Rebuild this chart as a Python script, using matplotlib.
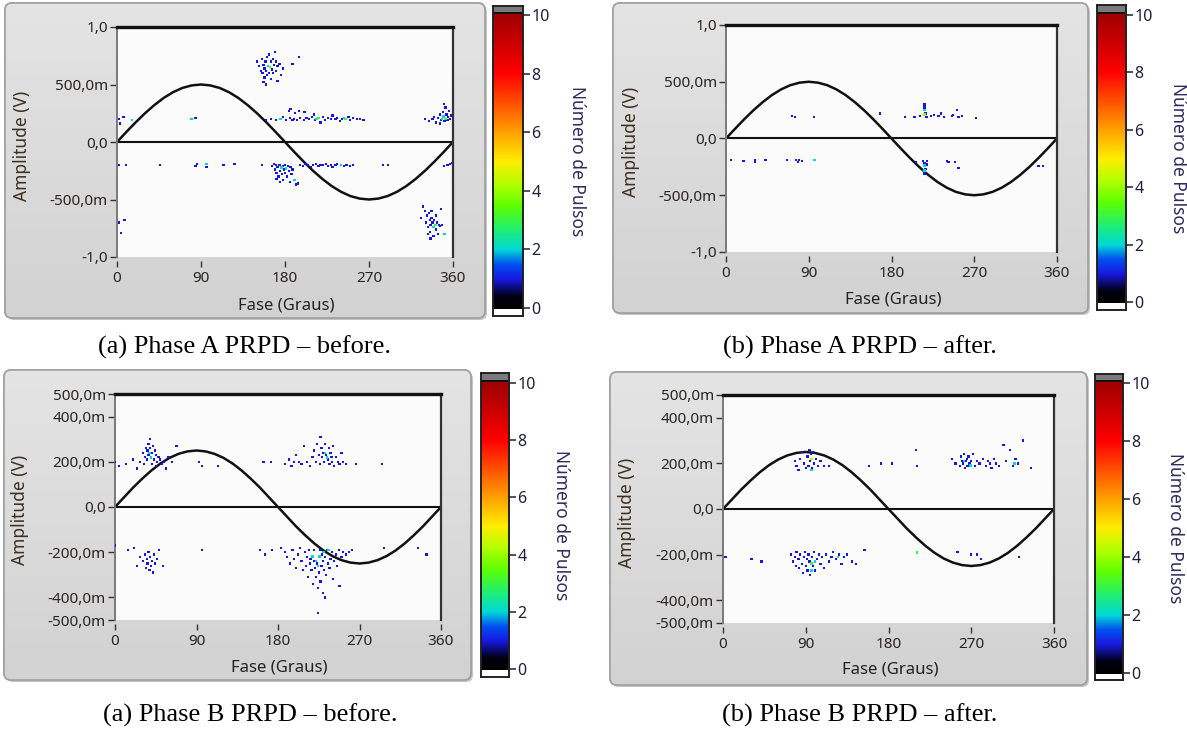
import numpy as np
import matplotlib
matplotlib.use('Agg')
import matplotlib.pyplot as plt
from matplotlib.colors import LinearSegmentedColormap, Normalize
from matplotlib.patches import FancyBboxPatch, Rectangle

# ---------------- data ----------------
x_ticks = [0, 90, 180, 270, 360]
cbar_ticks = [0, 2, 4, 6, 8, 10]

ytick_top = [1.0, 0.5, 0.0, -0.5, -1.0]
ylab_top = ['1,0', '500,0m', '0,0', '-500,0m', '-1,0']
ytick_bot = [0.5, 0.4, 0.2, 0.0, -0.2, -0.4, -0.5]
ylab_bot = ['500,0m', '400,0m', '200,0m', '0,0', '-200,0m', '-400,0m', '-500,0m']

sine_phase = [0, 10, 20, 30, 40, 50, 60, 70, 80, 90, 100, 110, 120, 130, 140, 150, 160, 170, 180,
              190, 200, 210, 220, 230, 240, 250, 260, 270, 280, 290, 300, 310, 320, 330, 340, 350, 360]
sine_top = [0, 0.087, 0.171, 0.25, 0.321, 0.383, 0.433, 0.47, 0.492, 0.5, 0.492, 0.47, 0.433, 0.383,
            0.321, 0.25, 0.171, 0.087, 0, -0.087, -0.171, -0.25, -0.321, -0.383, -0.433, -0.47, -0.492,
            -0.5, -0.492, -0.47, -0.433, -0.383, -0.321, -0.25, -0.171, -0.087, 0]
sine_bot = [0, 0.043, 0.086, 0.125, 0.161, 0.192, 0.217, 0.235, 0.246, 0.25, 0.246, 0.235, 0.217, 0.192,
            0.161, 0.125, 0.086, 0.043, 0, -0.043, -0.086, -0.125, -0.161, -0.192, -0.217, -0.235, -0.246,
            -0.25, -0.246, -0.235, -0.217, -0.192, -0.161, -0.125, -0.086, -0.043, 0]

# Phase A - before (single pulses)
a_phase = [150, 152, 154, 155, 156, 157, 157, 158, 158, 159, 160, 160, 161, 161, 163, 163, 165, 165, 166,
           167, 167, 168, 169, 170, 170, 172, 172, 174, 176, 178, 188, 195,
           2, 3, 7, 84,
           160, 165, 170, 178, 181, 184, 185, 186, 188, 190, 191, 193, 195, 196, 200, 201, 203, 206, 209,
           211, 212, 218, 221, 223, 226, 229, 231, 234, 236, 239, 241, 248, 250, 253, 257, 260, 264,
           330, 334, 338, 340, 342, 344, 346, 346, 347, 349, 350, 351, 352, 353, 354, 355, 356, 357, 358,
           2, 10, 46, 84, 86, 96, 114, 126, 155,
           166, 168, 169, 170, 171, 171, 172, 173, 174, 175, 175, 177, 178, 178, 179, 180, 180, 182, 183,
           184, 185, 186, 187, 188, 192, 194,
           196, 199, 202, 205, 208, 210, 213, 216, 218, 221, 224, 226, 229, 231, 234, 236, 243, 246, 250,
           253, 285, 290, 350, 354, 357, 359,
           326, 328, 330, 331, 332, 333, 333, 334, 335, 335, 336, 336, 337, 337, 338, 339, 340, 342, 342,
           343, 344, 345, 346, 347, 348,
           2, 8, 4]
a_amp = [0.70, 0.66, 0.62, 0.72, 0.60, 0.67, 0.52, 0.64, 0.56, 0.70, 0.62, 0.50, 0.58, 0.74, 0.60, 0.76, 0.70, 0.55, 0.63,
         0.72, 0.60, 0.67, 0.78, 0.70, 0.62, 0.66, 0.53, 0.68, 0.58, 0.64, 0.68, 0.74,
         0.20, 0.16, 0.22, 0.21,
         0.19, 0.20, 0.19, 0.22, 0.19, 0.27, 0.21, 0.29, 0.19, 0.20, 0.25, 0.19, 0.27, 0.21, 0.19, 0.26, 0.21, 0.20, 0.22,
         0.24, 0.19, 0.17, 0.22, 0.19, 0.21, 0.20, 0.23, 0.20, 0.21, 0.18, 0.20, 0.22, 0.19, 0.21, 0.20, 0.20, 0.19,
         0.20, 0.18, 0.20, 0.22, 0.17, 0.21, 0.24, 0.16, 0.19, 0.26, 0.33, 0.18, 0.30, 0.24, 0.19, 0.22, 0.27, 0.20, 0.23,
         -0.20, -0.20, -0.20, -0.21, -0.19, -0.22, -0.20, -0.19, -0.20,
         -0.21, -0.19, -0.24, -0.20, -0.27, -0.32, -0.22, -0.30, -0.20, -0.25, -0.35, -0.28, -0.21, -0.33, -0.24, -0.20, -0.27, -0.30, -0.21,
         -0.25, -0.35, -0.22, -0.28, -0.24, -0.37, -0.36,
         -0.20, -0.21, -0.19, -0.20, -0.22, -0.20, -0.19, -0.21, -0.20, -0.20, -0.19, -0.21, -0.20, -0.22, -0.20, -0.19, -0.21, -0.20, -0.21,
         -0.20, -0.20, -0.20, -0.21, -0.20, -0.19, -0.18,
         -0.66, -0.56, -0.60, -0.70, -0.64, -0.74, -0.80, -0.62, -0.68, -0.78, -0.72, -0.84, -0.66, -0.60, -0.70, -0.82, -0.68, -0.76, -0.64,
         -0.70, -0.80, -0.72, -0.73, -0.58, -0.72,
         -0.70, -0.68, -0.79]
# Phase A - before (repeated pulses)
a_hot_phase = [162, 164, 16, 80, 175, 214, 216, 243, 245, 348, 350, 352, 96, 176, 181, 190, 240, 339, 341, 351]
a_hot_amp = [0.66, 0.65, 0.19, 0.20, 0.20, 0.20, 0.21, 0.21, 0.20, 0.20, 0.22, 0.20,
             -0.19, -0.22, -0.23, -0.33, -0.20, -0.74, -0.72, -0.80]
a_hot_count = [2, 3, 2, 2, 2, 2, 3, 2, 3, 2, 2, 3, 2, 2, 2, 2, 2, 2, 3, 2]

# Phase A - after
b_phase = [71.5, 75, 96, 167.6, 195, 205, 211, 216, 216, 216, 217, 215, 218, 223, 226, 231, 234, 237,
           246, 247, 251, 253, 257, 272,
           5.4, 19, 31.6, 31.6, 43, 66, 76, 78, 79, 83, 207, 214, 216, 217, 218, 219, 240, 242, 249,
           253, 340, 345]
b_amp = [0.20, 0.19, 0.19, 0.22, 0.19, 0.19, 0.20, 0.30, 0.28, 0.26, 0.22, 0.21, 0.19, 0.20, 0.21, 0.20, 0.22, 0.19,
         0.20, 0.21, 0.25, 0.19, 0.20, 0.18,
         -0.19, -0.20, -0.19, -0.21, -0.19, -0.19, -0.19, -0.21, -0.19, -0.20, -0.21, -0.20, -0.22, -0.27, -0.23, -0.20, -0.20, -0.21, -0.21,
         -0.26, -0.24, -0.24]
b_hot_phase = [216, 216, 96, 216, 216, 216]
b_hot_amp = [0.21, 0.25, -0.19, -0.24, -0.28, -0.31]
b_hot_count = [4, 2, 2, 2, 2, 1]

# Phase B - before
c_phase = [0, 4, 12, 20, 24, 28, 31, 32, 33, 34, 35, 36, 37, 37, 39, 39, 41, 41, 42, 43, 44, 45, 45, 46,
           48, 50, 52, 54, 56, 59, 63, 68, 93, 96, 114,
           164, 172, 188, 192, 195, 198, 200, 203, 206, 209, 212, 215, 218, 220, 222, 223, 225, 226, 227,
           228, 229, 230, 231, 232, 233, 235, 236, 237, 238, 239, 240, 241, 242, 244, 246, 248, 250, 252,
           255, 266, 295,
           0, 14, 21, 24, 28, 31, 33, 34, 35, 36, 37, 38, 39, 40, 41, 42, 43, 44, 46, 49, 53, 96,
           160, 166, 173, 183, 188, 190, 193, 196, 198, 200, 202, 204, 206, 208, 210, 211, 212, 213, 214,
           215, 216, 217, 219, 220, 220, 221, 222, 223, 224, 225, 227, 227, 228, 229, 230, 230, 231, 232,
           233, 234, 235, 237, 238, 240, 241, 242, 244, 245, 247, 248, 250, 252, 255, 258, 262, 232, 224,
           297, 335, 344]
c_amp = [0.20, 0.18, 0.19, 0.21, 0.17, 0.20, 0.24, 0.19, 0.22, 0.26, 0.21, 0.25, 0.23, 0.28, 0.26, 0.30, 0.24, 0.19, 0.27, 0.21, 0.25, 0.23, 0.18, 0.20,
         0.22, 0.21, 0.19, 0.20, 0.17, 0.22, 0.20, 0.27, 0.20, 0.18, 0.18,
         0.20, 0.20, 0.19, 0.21, 0.18, 0.20, 0.23, 0.20, 0.19, 0.27, 0.20, 0.18, 0.22, 0.25, 0.20, 0.28, 0.23, 0.19, 0.31,
         0.26, 0.22, 0.24, 0.20, 0.28, 0.23, 0.21, 0.26, 0.19, 0.24, 0.22, 0.20, 0.27, 0.18, 0.22, 0.20, 0.19, 0.24, 0.20,
         0.19, 0.19, 0.19,
         -0.17, -0.19, -0.18, -0.26, -0.22, -0.24, -0.21, -0.27, -0.23, -0.25, -0.20, -0.28, -0.22, -0.26, -0.24, -0.29, -0.21, -0.25, -0.23, -0.19, -0.26, -0.19,
         -0.19, -0.21, -0.19, -0.18, -0.20, -0.22, -0.25, -0.19, -0.23, -0.27, -0.21, -0.18, -0.24, -0.28, -0.20, -0.26, -0.22, -0.31, -0.19,
         -0.25, -0.23, -0.28, -0.34, -0.24, -0.19, -0.27, -0.31, -0.25, -0.36, -0.29, -0.33, -0.19, -0.26, -0.21, -0.38, -0.24, -0.28, -0.22,
         -0.30, -0.19, -0.25, -0.27, -0.23, -0.20, -0.32, -0.24, -0.21, -0.26, -0.19, -0.35, -0.22, -0.20, -0.21, -0.20, -0.19, -0.40, -0.47,
         -0.18, -0.18, -0.21]
c_hot_phase = [38, 40, 232, 234, 218, 222, 226, 230, 236, 224]
c_hot_amp = [0.24, 0.22, 0.24, 0.22, -0.22, -0.24, -0.22, -0.20, -0.19, -0.26]
c_hot_count = [2, 2, 2, 2, 2, 2, 2, 2, 2, 2]

# Phase B - after
d_phase = [78, 80, 82, 84, 86, 88, 90, 92, 93, 94, 95, 96, 97, 98, 99, 101, 103, 106, 110, 115,
           159, 172, 184, 210, 211,
           249, 253, 258, 259, 260, 261, 262, 263, 264, 265, 266, 267, 268, 270, 272, 274, 276, 279, 283,
           286, 288, 290, 292, 295, 297, 300, 305, 308, 312, 315, 318, 321, 326, 335,
           74, 76, 78, 79, 80, 82, 83, 84, 86, 87, 88, 89, 90, 91, 92, 93, 94, 95, 97, 98, 99, 100, 102,
           104, 106, 108, 110, 112, 115, 118, 120, 123, 126, 129, 132, 135, 140, 145,
           2.6, 31, 42, 154, 255, 270, 276, 281, 322]
d_amp = [0.21, 0.19, 0.17, 0.22, 0.25, 0.20, 0.18, 0.23, 0.19, 0.26, 0.21, 0.24, 0.18, 0.25, 0.20, 0.22, 0.19, 0.21, 0.19, 0.19,
         0.19, 0.20, 0.20, 0.26, 0.19,
         0.22, 0.20, 0.19, 0.23, 0.21, 0.20, 0.24, 0.18, 0.21, 0.22, 0.19, 0.23, 0.20, 0.21, 0.24, 0.19, 0.21, 0.20, 0.22,
         0.19, 0.21, 0.20, 0.18, 0.22, 0.20, 0.19, 0.28, 0.21, 0.26, 0.19, 0.22, 0.20, 0.30, 0.18,
         -0.20, -0.23, -0.21, -0.25, -0.19, -0.22, -0.26, -0.20, -0.24, -0.28, -0.21, -0.19, -0.25, -0.22, -0.27, -0.20, -0.23, -0.29, -0.21, -0.25, -0.19, -0.27, -0.22,
         -0.20, -0.24, -0.21, -0.26, -0.20, -0.23, -0.21, -0.19, -0.22, -0.20, -0.24, -0.21, -0.20, -0.23, -0.24,
         -0.21, -0.22, -0.23, -0.18, -0.19, -0.20, -0.20, -0.22, -0.21]
d_hot_phase = [96, 96, 262, 269, 317, 96, 96, 100, 125, 211]
d_hot_amp = [0.22, 0.17, 0.21, 0.19, 0.20, -0.24, -0.27, -0.23, -0.21, -0.19]
d_hot_count = [4, 2, 2, 2, 2, 3, 2, 2, 2, 3]

captions = ['(a) Phase A PRPD \u2013 before.', '(b) Phase A PRPD \u2013 after.',
            '(a) Phase B PRPD \u2013 before.', '(b) Phase B PRPD \u2013 after.']

# ---------------- style ----------------
W, H = 1187, 732
fig = plt.figure(figsize=(W / 100, H / 100), dpi=100)
fig.patch.set_facecolor('white')

def rect(x0, y0, x1, y1):
    return [x0 / W, 1 - y1 / H, (x1 - x0) / W, (y1 - y0) / H]

cmap = LinearSegmentedColormap.from_list('lv', [
    (0.00, '#000000'), (0.04, '#000010'), (0.10, '#1818e0'), (0.15, '#0050f0'),
    (0.20, '#00d8d8'), (0.27, '#20f070'), (0.35, '#60ff00'), (0.42, '#b0ff00'),
    (0.50, '#ffee00'), (0.60, '#ffa000'), (0.70, '#ff5000'), (0.80, '#ff0000'),
    (0.90, '#cc0000'), (1.00, '#a00000')])
norm = Normalize(0, 10)

UI = 'Noto Sans'
TXT = '#2a2520'

bg = fig.add_axes([0, 0, 1, 1], zorder=-10)
bg.set_xlim(0, W)
bg.set_ylim(H, 0)
bg.axis('off')

panels = [
    dict(frame=(5, 3, 485, 318), plot=(117, 27, 453, 257), cb=(493, 6, 523, 316), c0=308, c10=15,
         yl=(22, 146), xl=(286, 305), cl=(577, 161), cap=(245, 347),
         top=True, ph=a_phase, am=a_amp, hp=a_hot_phase, ha=a_hot_amp, hc=a_hot_count),
    dict(frame=(613, 3, 1088, 313), plot=(726, 25, 1057, 252), cb=(1097, 5, 1126, 310), c0=302, c10=15,
         yl=(631, 142), xl=(893, 300), cl=(1178, 158), cap=(860, 347),
         top=True, ph=b_phase, am=b_amp, hp=b_hot_phase, ha=b_hot_amp, hc=b_hot_count),
    dict(frame=(4, 370, 471, 680), plot=(115, 394, 441, 620), cb=(481, 373, 509, 677), c0=669, c10=383,
         yl=(20, 510), xl=(279, 667), cl=(561, 525), cap=(250, 715),
         top=False, ph=c_phase, am=c_amp, hp=c_hot_phase, ha=c_hot_amp, hc=c_hot_count),
    dict(frame=(610, 372, 1087, 685), plot=(723, 395, 1054, 623), cb=(1095, 374, 1123, 680), c0=673, c10=383,
         yl=(627, 513), xl=(890, 670), cl=(1175, 528), cap=(860, 715),
         top=False, ph=d_phase, am=d_amp, hp=d_hot_phase, ha=d_hot_amp, hc=d_hot_count),
]

grad = np.linspace(0, 1, 256).reshape(-1, 1)
vgrad = np.linspace(0, 1, 64).reshape(-1, 1)

for i, p in enumerate(panels):
    x0, y0, x1, y1 = p['frame']
    # shadow
    bg.add_patch(FancyBboxPatch((x0 + 2, y0 + 2), x1 - x0, y1 - y0,
                                boxstyle='round,pad=0,rounding_size=7', fc='#c4c4c4', ec='none', zorder=1))
    fr = FancyBboxPatch((x0, y0), x1 - x0, y1 - y0, boxstyle='round,pad=0,rounding_size=7',
                        fc='#dadada', ec='#a8a8a8', lw=1.2, zorder=2)
    bg.add_patch(fr)
    im = bg.imshow(vgrad, extent=(x0, x1, y1, y0), cmap=LinearSegmentedColormap.from_list(
        'g', ['#e4e4e4', '#d2d2d2']), aspect='auto', zorder=2.5, interpolation='bilinear')
    im.set_clip_path(fr)
    bg.add_patch(FancyBboxPatch((x0, y0), x1 - x0, y1 - y0, boxstyle='round,pad=0,rounding_size=7',
                                fc='none', ec='#a0a0a0', lw=1.2, zorder=3))
    bg.set_xlim(0, W)
    bg.set_ylim(H, 0)

    # ---- main plot ----
    ax = fig.add_axes(rect(*p['plot']))
    ax.set_facecolor('#fbfbfb')
    ax.set_xlim(0, 360)
    if p['top']:
        ax.set_ylim(-1.0, 1.0)
        ax.set_yticks(ytick_top)
        ax.set_yticklabels(ylab_top)
        sine = sine_top
    else:
        ax.set_ylim(-0.5, 0.5)
        ax.set_yticks(ytick_bot)
        ax.set_yticklabels(ylab_bot)
        sine = sine_bot
    ax.set_xticks(x_ticks)
    ax.set_xticklabels([str(v) for v in x_ticks])
    ax.spines['top'].set_color('#111111')
    ax.spines['top'].set_linewidth(2.4)
    ax.spines['right'].set_color('#333333')
    ax.spines['right'].set_linewidth(1.6)
    ax.spines['left'].set_color('#7a7a7a')
    ax.spines['left'].set_linewidth(1.4)
    ax.spines['bottom'].set_position(('outward', 3))
    ax.spines['bottom'].set_visible(False)
    ax.tick_params(axis='y', length=5, width=1, color='#333333', pad=1.5, labelsize=11,
                   labelcolor=TXT, labelfontfamily=UI)
    ax.tick_params(axis='x', length=4.5, width=1, color='#333333', pad=2.5, labelsize=11,
                   labelcolor=TXT, labelfontfamily=UI)
    ax.axhline(0, color='#111111', lw=1.5, zorder=2)
    ax.plot(sine_phase, sine, color='#111111', lw=1.8, zorder=2, solid_joinstyle='miter')
    ax.scatter(p['ph'], p['am'], c=[1] * len(p['ph']), cmap=cmap, norm=norm, marker='s', s=2.6,
               linewidths=0, zorder=3)
    ax.scatter(p['hp'], p['ha'], c=p['hc'], cmap=cmap, norm=norm, marker='s', s=3.2,
               linewidths=0, zorder=4)

    bg.text(p['yl'][0], p['yl'][1], 'Amplitude (V)', rotation=90, ha='center', va='center',
            fontsize=12.5, family=UI, color='#3d3020', zorder=5)
    bg.text(p['xl'][0], p['xl'][1], 'Fase (Graus)', ha='center', va='center',
            fontsize=12, family=UI, color='#222222', zorder=5)

    # ---- colour bar ----
    cx0, cy0, cx1, cy1 = p['cb']
    c0, c10 = p['c0'], p['c10']
    def v(y):
        return (c0 - y) / (c0 - c10) * 10
    cax = fig.add_axes(rect(cx0, cy0, cx1, cy1))
    cax.set_xlim(0, 1)
    cax.set_ylim(v(cy1), v(cy0))
    cax.imshow(grad, extent=(0, 1, v(c0 + 1), v(c10 - 1)), origin='lower', cmap=cmap,
               aspect='auto', interpolation='bilinear')
    cax.add_patch(Rectangle((0, v(cy1)), 1, v(c0 + 1) - v(cy1), fc='white', ec='none'))
    cax.add_patch(Rectangle((0, v(c10 - 1)), 1, v(cy0) - v(c10 - 1), fc='#111111', ec='none'))
    cax.add_patch(Rectangle((0, v(c10 - 3)), 1, v(cy0) - v(c10 - 3), fc='#7a7a7a', ec='none'))
    cax.set_xticks([])
    cax.yaxis.tick_right()
    cax.set_yticks(cbar_ticks)
    cax.set_yticklabels([str(t) for t in cbar_ticks])
    cax.tick_params(axis='y', length=5, width=1.1, color='#222222', pad=1, labelsize=11.5,
                    labelcolor='#1f1f3a', labelfontfamily=UI)
    for s in cax.spines.values():
        s.set_color('#222222')
        s.set_linewidth(1.4)
    bg.text(p['cl'][0], p['cl'][1], 'N\u00famero de Pulsos', rotation=270, ha='center', va='center',
            fontsize=12.5, family=UI, color='#2e2a5c', zorder=5)

    bg.text(p['cap'][0], p['cap'][1], captions[i], ha='center', va='center', fontsize=19,
            family='Liberation Serif', color='black', zorder=5)

fig.savefig('out.png', dpi=100, facecolor='white')
